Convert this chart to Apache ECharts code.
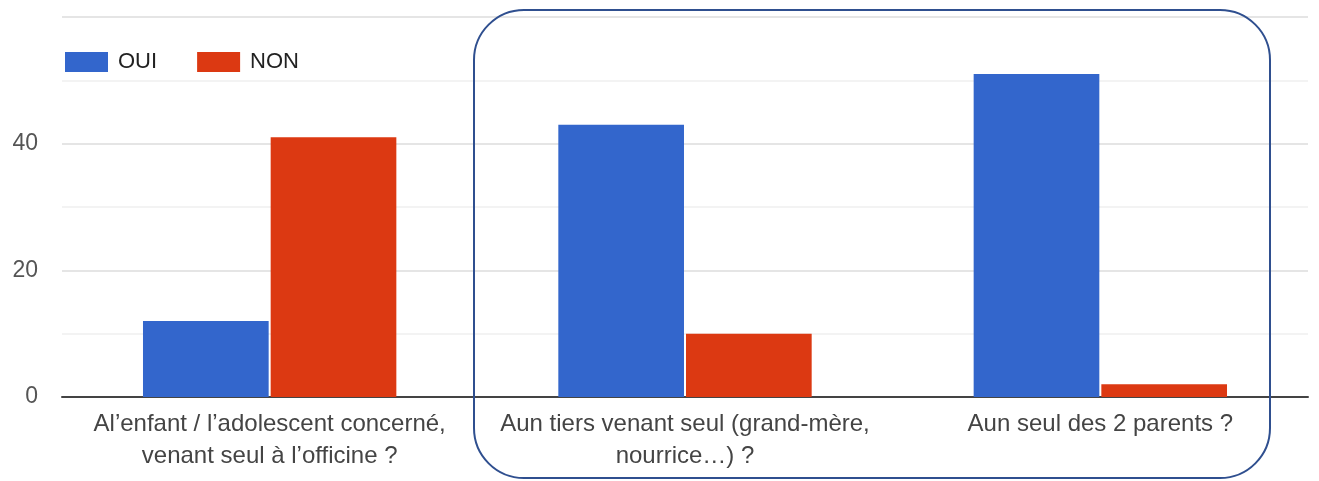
<!DOCTYPE html>
<html>
<head>
<meta charset="utf-8">
<script src="https://cdn.jsdelivr.net/npm/echarts@6/dist/echarts.min.js"></script>
<style>
  html, body { margin: 0; padding: 0; background: #fff; }
  #main { width: 1319px; height: 481px; }
</style>
</head>
<body>
<div id="main"></div>
<script>
// categories (questions)
var categories = [
    "Al’enfant / l’adolescent concerné,\nvenant seul à l’officine ?",
    "Aun tiers venant seul (grand-mère,\nnourrice…) ?",
    "Aun seul des 2 parents ?"
];
// answer counts
var oui = [12, 43, 51];
var non = [41, 10, 2];
var yTicks = [0, 20, 40, 60];
var yShown = [0, 20, 40];   // top tick has no label

var chart = echarts.init(document.getElementById('main'));

var font = "'Liberation Sans', Arial, sans-serif";

var option = {
    animation: false,
    textStyle: { fontFamily: font },
    legend: {
        left: 65,
        top: 51,
        padding: 0,
        itemWidth: 43,
        itemHeight: 20,
        itemGap: 40,
        icon: 'rect',
        textStyle: { fontSize: 22, color: '#222', padding: [0, 0, 0, 5] },
        data: ['OUI', 'NON']
    },
    grid: { left: 62, right: 11, top: 17, bottom: 84 },
    xAxis: {
        type: 'category',
        data: categories,
        axisTick: { show: false },
        axisLine: { lineStyle: { color: '#444', width: 2 } },
        axisLabel: {
            fontSize: 24,
            color: '#444',
            lineHeight: 32,
            margin: 11,
            interval: 0
        }
    },
    yAxis: {
        type: 'value',
        min: yTicks[0],
        max: yTicks[yTicks.length - 1],
        interval: 20,
        axisLine: { show: false },
        axisTick: { show: false },
        axisLabel: {
            fontSize: 23,
            color: '#555',
            margin: 24,
            formatter: function (v) { return yShown.indexOf(v) >= 0 ? String(v) : ''; }
        },
        splitLine: { lineStyle: { color: '#dcdcdc', width: 1.5 } },
        minorTick: { show: false, splitNumber: 2 },
        minorSplitLine: { show: true, lineStyle: { color: '#f0f0f0', width: 1.5 } }
    },
    series: [
        {
            name: 'OUI',
            type: 'bar',
            data: oui,
            itemStyle: { color: '#3366cc' },
            barCategoryGap: '39%',
            barGap: '1.6%'
        },
        {
            name: 'NON',
            type: 'bar',
            data: non,
            itemStyle: { color: '#dc3912' }
        }
    ],
    // rounded frame round the last two questions
    graphic: [{
        type: 'rect',
        z: 100,
        shape: { x: 474, y: 10, width: 796, height: 468, r: 50 },
        style: { fill: 'none', stroke: '#2f4f8f', lineWidth: 2 }
    }]
};

chart.setOption(option);
</script>
</body>
</html>
